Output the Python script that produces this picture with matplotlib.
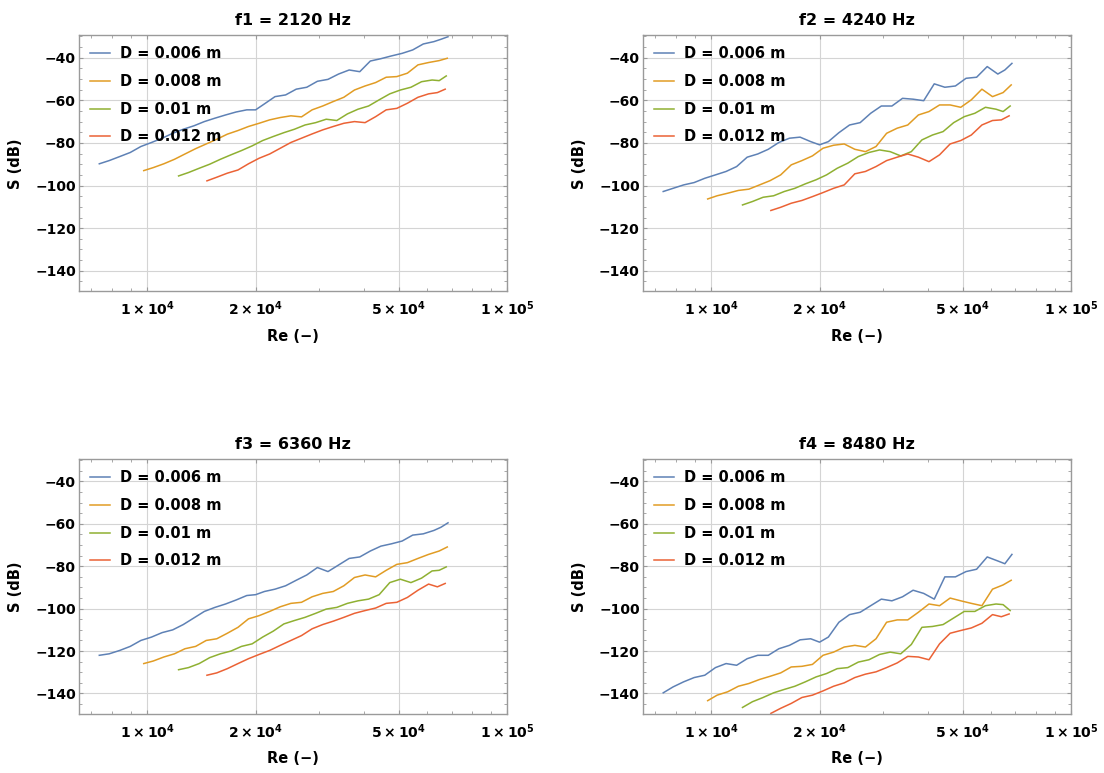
"""
Sound level S against Reynolds number at four frequencies, one curve per pipe diameter.
"""
import matplotlib
matplotlib.use("Agg")
import matplotlib.pyplot as plt
from matplotlib.ticker import FixedLocator, FixedFormatter, NullFormatter

# Reynolds numbers of each diameter sweep (shared by all four frequencies)
RE_006 = [7360, 7840, 8390, 8970, 9600, 10280, 11000, 11770, 12590, 13470, 14410,
          15420, 16500, 17660, 18900, 20000, 21160, 22640, 24230, 25930, 27740,
          29690, 31770, 34000, 36380, 38930, 41650, 44570, 47690, 51040, 54610,
          58440, 62540, 65420, 68450]
RE_008 = [9780, 10390, 11120, 11900, 12730, 13630, 14580, 15600, 16690, 17870,
          19110, 20450, 21880, 23420, 25060, 26820, 28700, 30710, 32860, 35160,
          37630, 40270, 43090, 46100, 49340, 52790, 56490, 60450, 64690, 68130]
RE_010 = [12220, 13020, 13940, 14910, 15960, 17080, 18270, 19560, 20920, 22390,
          23960, 25630, 27430, 29360, 31410, 33610, 35970, 38490, 41180, 44070,
          47160, 50460, 54000, 57790, 61830, 64690, 67680]
RE_012 = [14650, 15600, 16690, 17870, 19110, 20450, 21880, 23420, 25060, 26820,
          28700, 30710, 32860, 35160, 37630, 40270, 43090, 46100, 49340, 52790,
          56490, 60450, 63960, 67230]

# f1 = 2120 Hz
F1_006 = [-89.8, -88.3, -86.4, -84.5, -81.7, -79.8, -77.8, -75.5, -73.6, -72.0, -70.0,
          -68.4, -66.9, -65.5, -64.5, -64.5, -61.7, -58.3, -57.5, -54.8, -53.9,
          -51.1, -50.2, -47.7, -45.8, -46.6, -41.6, -40.5, -39.2, -38.0, -36.4,
          -33.6, -32.5, -31.4, -30.2]
F1_008 = [-93.0, -91.6, -89.8, -87.7, -85.2, -82.7, -80.5, -78.3, -75.9, -74.2,
          -72.3, -70.8, -69.2, -68.1, -67.3, -67.8, -64.5, -62.7, -60.6, -58.6,
          -55.2, -53.3, -51.7, -49.2, -48.9, -47.3, -43.4, -42.3, -41.4, -40.3]
F1_010 = [-95.5, -93.9, -91.9, -90.0, -87.7, -85.6, -83.6, -81.4, -78.9, -77.0,
          -75.2, -73.6, -71.6, -70.5, -68.9, -69.5, -66.4, -64.2, -62.7, -59.8,
          -57.0, -55.2, -53.9, -51.3, -50.5, -50.8, -48.6]
F1_012 = [-97.8, -96.1, -94.2, -92.7, -89.8, -87.2, -85.2, -82.5, -79.8, -77.8,
          -75.8, -73.9, -72.3, -70.8, -70.0, -70.5, -67.7, -64.5, -63.8, -61.4,
          -58.6, -57.0, -56.4, -54.8]

# f2 = 4240 Hz
F2_006 = [-102.8, -101.3, -99.7, -98.6, -96.6, -95.0, -93.4, -91.1, -86.7, -85.2, -83.0,
          -79.8, -77.8, -77.3, -79.4, -80.9, -79.4, -75.2, -71.6, -70.5, -66.1,
          -62.7, -62.7, -59.1, -59.5, -60.2, -52.3, -53.9, -53.3, -49.7, -49.2,
          -44.2, -47.7, -45.8, -42.7]
F2_008 = [-106.3, -104.8, -103.6, -102.3, -101.7, -99.7, -97.7, -95.0, -90.3, -88.3,
          -86.1, -82.5, -81.1, -80.5, -83.0, -84.1, -81.7, -75.5, -73.1, -71.6,
          -66.9, -65.3, -62.2, -62.2, -63.3, -59.8, -54.8, -58.3, -56.4, -52.8]
F2_010 = [-109.1, -107.5, -105.5, -104.8, -102.8, -101.3, -99.2, -97.3, -95.0, -91.9,
          -89.5, -86.4, -84.5, -83.3, -84.1, -86.1, -84.1, -78.6, -76.3, -74.7,
          -70.5, -67.7, -66.1, -63.3, -64.2, -65.3, -62.7]
F2_012 = [-111.7, -110.2, -108.3, -107.0, -105.2, -103.3, -101.3, -99.7, -94.5, -93.4,
          -91.1, -88.3, -86.7, -85.2, -86.7, -88.8, -85.6, -80.5, -78.9, -76.3,
          -71.6, -69.5, -69.2, -67.3]

# f3 = 6360 Hz
F3_006 = [-122.0, -121.3, -119.7, -117.8, -115.0, -113.4, -111.3, -110.0, -107.5, -104.4,
          -101.3, -99.4, -97.8, -95.9, -93.8, -93.4, -91.9, -90.8, -89.2, -86.6,
          -84.1, -80.6, -82.5, -79.4, -76.3, -75.6, -72.8, -70.5, -69.4, -68.1,
          -65.3, -64.7, -63.1, -61.6, -59.5]
F3_008 = [-125.9, -124.7, -122.8, -121.3, -118.9, -117.8, -115.0, -114.2, -111.6, -108.8,
          -104.8, -103.3, -101.3, -99.1, -97.5, -97.0, -94.4, -92.8, -91.9, -89.2,
          -85.3, -84.1, -85.0, -81.9, -79.1, -78.3, -76.3, -74.4, -72.8, -70.9]
F3_010 = [-128.8, -127.8, -125.9, -123.1, -121.3, -120.0, -117.8, -116.6, -113.4, -110.6,
          -107.2, -105.6, -104.1, -102.2, -100.2, -99.4, -97.5, -96.3, -95.5, -93.4,
          -87.7, -86.1, -87.7, -85.6, -82.2, -81.9, -80.3]
F3_012 = [-131.4, -130.3, -128.3, -125.9, -123.6, -121.6, -119.7, -117.3, -115.0, -112.7,
          -109.5, -107.5, -105.9, -104.1, -102.2, -100.9, -99.7, -97.5, -97.0, -94.7,
          -91.3, -88.4, -89.7, -88.1]

# f4 = 8480 Hz
F4_006 = [-139.7, -136.9, -134.5, -132.5, -131.4, -127.8, -125.9, -126.7, -123.6, -122.0,
          -122.0, -118.9, -117.3, -114.7, -114.2, -115.8, -113.4, -106.4, -102.8, -101.7,
          -98.6, -95.5, -96.3, -94.4, -91.3, -92.8, -95.5, -85.0, -85.0, -82.5,
          -81.4, -75.6, -77.5, -78.8, -74.4]
F4_008 = [-143.4, -140.8, -139.2, -136.6, -135.3, -133.4, -131.9, -130.3, -127.5, -127.2,
          -126.3, -122.0, -120.5, -118.1, -117.3, -118.1, -114.2, -106.4, -105.3, -105.3,
          -101.7, -97.8, -98.6, -95.0, -96.3, -97.5, -98.6, -90.8, -88.8, -86.6]
F4_010 = [-146.6, -143.9, -141.9, -139.7, -138.1, -136.6, -134.5, -132.2, -130.6, -128.3,
          -127.8, -125.2, -124.1, -121.6, -120.5, -121.3, -116.9, -108.8, -108.4, -107.5,
          -104.4, -101.3, -101.3, -98.6, -97.8, -98.1, -100.9]
F4_012 = [-149.4, -147.0, -144.7, -141.9, -140.8, -138.8, -136.6, -135.0, -132.5, -130.9,
          -129.8, -127.8, -125.6, -122.5, -122.8, -124.1, -116.6, -111.6, -110.3, -109.1,
          -106.9, -102.8, -103.8, -102.5]

TITLES = ["f1 = 2120 Hz", "f2 = 4240 Hz", "f3 = 6360 Hz", "f4 = 8480 Hz"]
LABELS = ["D = 0.006 m", "D = 0.008 m", "D = 0.01 m", "D = 0.012 m"]
COLORS = ["#5E81B5", "#E19C24", "#8FB032", "#EB6235"]
RE_SETS = [RE_006, RE_008, RE_010, RE_012]
S_SETS = [[F1_006, F1_008, F1_010, F1_012],
          [F2_006, F2_008, F2_010, F2_012],
          [F3_006, F3_008, F3_010, F3_012],
          [F4_006, F4_008, F4_010, F4_012]]

Y_MAJOR = [-140, -120, -100, -80, -60, -40]
Y_MINOR = [-145, -135, -130, -125, -115, -110, -105, -95, -90, -85,
           -75, -70, -65, -55, -50, -45, -35, -30]
X_MAJOR = [1e4, 2e4, 5e4, 1e5]
X_MAJOR_LABELS = [r"$1\times10^{4}$", r"$2\times10^{4}$", r"$5\times10^{4}$",
                  r"$1\times10^{5}$"]
X_MINOR = [7e3, 8e3, 9e3, 3e4, 4e4, 6e4, 7e4, 8e4, 9e4]

plt.rcParams["font.family"] = ["DejaVu Sans"]
plt.rcParams["font.weight"] = "bold"
plt.rcParams["axes.labelweight"] = "bold"
plt.rcParams["mathtext.default"] = "bf"

FRAME = "#9A9A9A"

fig = plt.figure(figsize=(11.04, 7.73), dpi=100)
positions = [[0.0718, 0.6229, 0.3877, 0.3318],
             [0.5826, 0.6229, 0.3877, 0.3318],
             [0.0718, 0.0763, 0.3877, 0.3299],
             [0.5826, 0.0763, 0.3877, 0.3299]]

for k in range(4):
    ax = fig.add_axes(positions[k])
    for re, s, color, label in zip(RE_SETS, S_SETS[k], COLORS, LABELS):
        ax.plot(re, s, color=color, linewidth=1.1, label=label)

    ax.set_xscale("log")
    ax.set_xlim(6475, 1.0e5)
    ax.set_ylim(-149.7, -29.4)

    ax.xaxis.set_major_locator(FixedLocator(X_MAJOR))
    ax.xaxis.set_major_formatter(FixedFormatter(X_MAJOR_LABELS))
    ax.xaxis.set_minor_locator(FixedLocator(X_MINOR))
    ax.xaxis.set_minor_formatter(NullFormatter())
    ax.yaxis.set_major_locator(FixedLocator(Y_MAJOR))
    ax.yaxis.set_major_formatter(FixedFormatter(["\u2212" + str(-v) for v in Y_MAJOR]))
    ax.yaxis.set_minor_locator(FixedLocator(Y_MINOR))

    ax.grid(True, which="major", color="#D4D4D4", linewidth=0.8)
    ax.set_axisbelow(True)
    ax.tick_params(which="both", direction="in", top=True, right=True,
                   color=FRAME, labelsize=10)
    ax.tick_params(which="major", length=3.2, width=0.8)
    ax.tick_params(which="minor", length=2.0, width=0.6)
    ax.tick_params(axis="y", pad=2.5)
    ax.tick_params(axis="x", pad=6)
    for lbl in ax.get_xticklabels() + ax.get_yticklabels():
        lbl.set_fontweight("bold")
    for sp in ax.spines.values():
        sp.set_color(FRAME)
        sp.set_linewidth(1.0)

    ax.set_xlabel("Re (\u2212)", fontsize=10.5, fontweight="bold", va="center")
    ax.xaxis.set_label_coords(0.5, -0.176)
    ax.set_ylabel("S (dB)", fontsize=10.5, fontweight="bold", va="center")
    ax.yaxis.set_label_coords(-0.148, 0.5)
    ax.text(0.5, 1.056, TITLES[k], transform=ax.transAxes, ha="center",
            va="center", fontsize=11.5, fontweight="bold")

    ax.legend(loc="upper left", frameon=False, fontsize=10.5, handlelength=1.37,
              handletextpad=0.65, labelspacing=0.87, borderpad=0.0,
              borderaxespad=0.77)

fig.savefig("out.png", dpi=100)
